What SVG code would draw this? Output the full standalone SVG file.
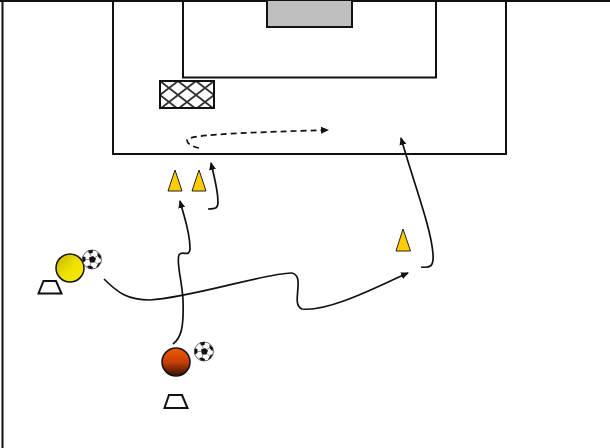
<svg xmlns="http://www.w3.org/2000/svg" width="610" height="448" viewBox="0 0 610 448">
<style>
.ln{fill:none;stroke:#111;stroke-width:2}
.cone{fill:#ffcc00;stroke:#222;stroke-width:1;stroke-linejoin:round}
.mark{fill:#fff;stroke:#111;stroke-width:2}
.run{fill:none;stroke:#111;stroke-width:1.700;marker-end:url(#ah)}
.p{fill:#111}
.b{fill:#fff;stroke:#444;stroke-width:.8}
.s{fill:none;stroke:#444;stroke-width:.6}
</style>
<defs>
<marker id="ah" markerUnits="userSpaceOnUse" markerWidth="9" markerHeight="8" refX="7" refY="4" orient="auto"><path d="M0 .5L8 4L0 7.500z" fill="#111"/></marker>
<linearGradient id="yg" x1="0" y1="0" x2="1" y2="1"><stop offset="0" stop-color="#c4b400"/><stop offset=".55" stop-color="#f0e400"/><stop offset="1" stop-color="#f4ec00"/></linearGradient>
<linearGradient id="rg" x1="0" y1="0" x2="0" y2="1"><stop offset="0" stop-color="#f25a05"/><stop offset=".5" stop-color="#c84005"/><stop offset="1" stop-color="#301004"/></linearGradient>
<pattern id="net" width="18" height="14" patternUnits="userSpaceOnUse" x="160" y="81"><rect width="18" height="14" fill="#fff"/><path d="M0 0L18 14M18 0L0 14" stroke="#333" stroke-width="1.800"/></pattern>
<g id="ball"><circle class="b" r="9.500"/><path class="p" d="M-3-2L1-3.500L4-1L2.500 3L-2 3z"/><path class="p" d="M-4-9L1-9.500L.5-6.500L-3-6zM5.500-7L9-3.500L8.500 0L5.500-3.500zM6.500 3.500L9 2.500L6 7.500L4 8zM-3 9L-5 6.500L-2 6L1 7.500L.5 9.500zM-9.500 3L-9.500 -3L-6.500 -2.500L-6.500 1.500z"/><path class="s" d="M-1-3L-1.500-6.500M2.500-2L5.500-3.500M3 2L5.500 4.500M-1 3L-2 6.300M-2.500 0L-6.500 0"/></g>
</defs>
<rect width="610" height="448" fill="#fff"/>
<g id="pitch">
<path d="M0 1H610" class="ln"/>
<path d="M2.500 0V448" class="ln"/>
<path class="ln" d="M113 0V154H506V0"/>
<path class="ln" d="M183 0V77.500H436V0"/>
</g>
<g id="goal"><rect x="267" y="1" width="85" height="26" fill="#bfbfbf"/><path class="ln" d="M267 0V27H352V0"/></g>
<g id="net-box"><rect x="160" y="81" width="54" height="27" fill="url(#net)" stroke="#111" stroke-width="2"/></g>
<g id="connectors">
<path class="run" d="M199 148C190 146 187 143 187 140C189 135 230 133 328 130" stroke-dasharray="6 4"/>
<path class="run" d="M208 209C216 209 218 208 218 202C218 190 214 176 211 163"/>
<path class="run" d="M173 344C181 338 184 328 183 300C182 280 176 262 179 255C182 250 190 258 190 248C190 232 185 220 180 201"/>
<path class="run" d="M104 279C118 293 128 300 150 300C190 298 270 272 292 273C306 276 290 305 302 309C330 312 380 285 408 273"/>
<path class="run" d="M421 267C430 268 434 267 433 254C431 228 416 190 401 138"/>
</g>
<g id="cone-1"><path class="cone" d="M175 170L182 191H168Z"/></g>
<g id="cone-2"><path class="cone" d="M199 170L206 191H192Z"/></g>
<g id="cone-3"><path class="cone" d="M403 229L410.500 251H396Z"/></g>
<g id="player-yellow"><circle cx="70" cy="268" r="14" fill="url(#yg)" stroke="#111" stroke-width="1.500"/></g>
<use id="ball-yellow" href="#ball" transform="translate(92 259.500)"/>
<g id="marker-yellow"><path class="mark" d="M43.500 281H56L61.500 293.500H38.500Z"/></g>
<g id="player-red"><circle cx="176" cy="362" r="14" fill="url(#rg)" stroke="#111" stroke-width="1.500"/></g>
<use id="ball-red" href="#ball" transform="translate(204 351.500)"/>
<g id="marker-red"><path class="mark" d="M169 395H182L187.500 408H164.500Z"/></g>
</svg>
